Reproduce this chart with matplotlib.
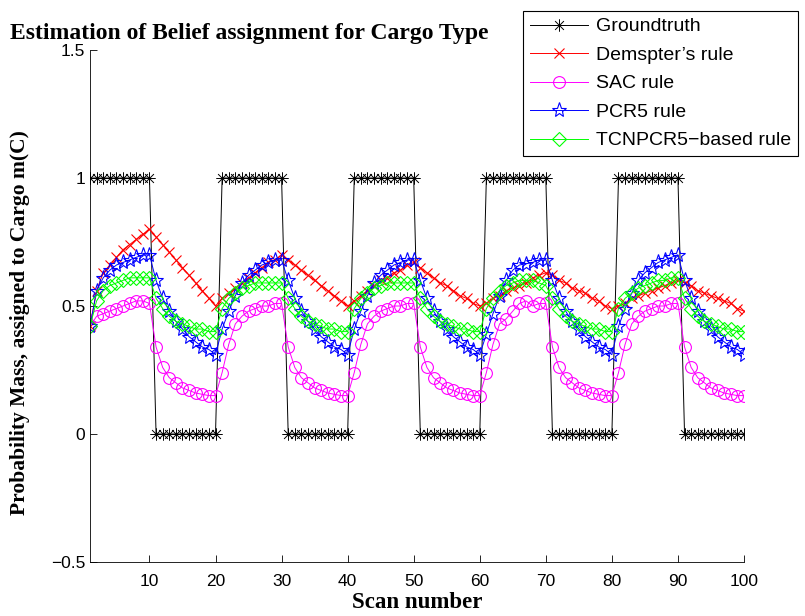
import numpy as np
import matplotlib
matplotlib.use("Agg")
from matplotlib import pyplot as plt
from matplotlib.path import Path

# scan index 1..100
scans = np.arange(1, 101)

groundtruth = [1] * 10 + [0] * 10 + [1] * 10 + [0] * 10 + [1] * 10 + [0] * 10 + [1] * 10 + [0] * 10 + [1] * 10 + [0] * 10

dempster = [0.42, 0.56, 0.63, 0.66, 0.69, 0.72, 0.74, 0.76, 0.78, 0.80,
            0.77, 0.74, 0.71, 0.68, 0.65, 0.62, 0.59, 0.56, 0.53, 0.50,
            0.53, 0.55, 0.57, 0.59, 0.61, 0.63, 0.65, 0.67, 0.68, 0.70,
            0.68, 0.66, 0.64, 0.62, 0.60, 0.58, 0.56, 0.54, 0.52, 0.50,
            0.52, 0.54, 0.56, 0.58, 0.60, 0.61, 0.63, 0.64, 0.66, 0.67,
            0.65, 0.63, 0.61, 0.59, 0.58, 0.56, 0.54, 0.53, 0.51, 0.50,
            0.51, 0.53, 0.54, 0.56, 0.57, 0.58, 0.59, 0.61, 0.62, 0.63,
            0.62, 0.60, 0.59, 0.57, 0.56, 0.55, 0.53, 0.52, 0.50, 0.49,
            0.50, 0.51, 0.53, 0.54, 0.55, 0.56, 0.57, 0.58, 0.59, 0.60,
            0.59, 0.58, 0.56, 0.55, 0.54, 0.53, 0.52, 0.51, 0.49, 0.48]

sac = [0.42, 0.46, 0.47, 0.48, 0.49, 0.50, 0.51, 0.52, 0.52, 0.51,
       0.34, 0.26, 0.22, 0.20, 0.18, 0.17, 0.16, 0.155, 0.15, 0.15,
       0.24, 0.35, 0.43, 0.46, 0.48, 0.49, 0.50, 0.50, 0.51, 0.51,
       0.34, 0.26, 0.22, 0.20, 0.18, 0.17, 0.16, 0.155, 0.15, 0.15,
       0.24, 0.35, 0.43, 0.46, 0.48, 0.49, 0.50, 0.50, 0.51, 0.51,
       0.34, 0.26, 0.22, 0.20, 0.18, 0.17, 0.16, 0.155, 0.15, 0.15,
       0.24, 0.35, 0.43, 0.45, 0.48, 0.51, 0.52, 0.50, 0.51, 0.51,
       0.34, 0.26, 0.22, 0.20, 0.18, 0.17, 0.16, 0.155, 0.15, 0.15,
       0.24, 0.35, 0.43, 0.46, 0.48, 0.49, 0.50, 0.50, 0.51, 0.51,
       0.34, 0.26, 0.22, 0.20, 0.18, 0.17, 0.16, 0.155, 0.15, 0.15]

pcr5 = [0.42, 0.56, 0.61, 0.64, 0.66, 0.67, 0.68, 0.69, 0.70, 0.70,
        0.60, 0.53, 0.48, 0.44, 0.41, 0.38, 0.36, 0.34, 0.33, 0.31,
        0.41, 0.48, 0.54, 0.59, 0.62, 0.64, 0.66, 0.67, 0.68, 0.68,
        0.60, 0.53, 0.48, 0.44, 0.41, 0.38, 0.36, 0.34, 0.33, 0.31,
        0.41, 0.48, 0.54, 0.59, 0.62, 0.64, 0.66, 0.67, 0.68, 0.68,
        0.60, 0.53, 0.48, 0.44, 0.41, 0.38, 0.36, 0.34, 0.33, 0.31,
        0.39, 0.47, 0.54, 0.60, 0.64, 0.66, 0.665, 0.67, 0.68, 0.68,
        0.60, 0.53, 0.48, 0.44, 0.41, 0.38, 0.36, 0.34, 0.33, 0.31,
        0.42, 0.49, 0.55, 0.60, 0.63, 0.65, 0.67, 0.68, 0.69, 0.70,
        0.60, 0.53, 0.48, 0.44, 0.41, 0.38, 0.36, 0.34, 0.33, 0.31]

tcnpcr5 = [0.42, 0.52, 0.56, 0.58, 0.59, 0.60, 0.61, 0.61, 0.61, 0.61,
           0.53, 0.49, 0.46, 0.44, 0.43, 0.42, 0.41, 0.41, 0.40, 0.40,
           0.49, 0.53, 0.55, 0.57, 0.58, 0.59, 0.59, 0.59, 0.59, 0.59,
           0.53, 0.49, 0.46, 0.44, 0.43, 0.42, 0.41, 0.41, 0.40, 0.40,
           0.49, 0.53, 0.55, 0.57, 0.58, 0.59, 0.59, 0.59, 0.59, 0.59,
           0.53, 0.49, 0.46, 0.44, 0.43, 0.42, 0.41, 0.41, 0.40, 0.40,
           0.49, 0.53, 0.56, 0.58, 0.59, 0.60, 0.60, 0.60, 0.59, 0.58,
           0.53, 0.49, 0.46, 0.44, 0.43, 0.42, 0.41, 0.41, 0.40, 0.40,
           0.49, 0.53, 0.55, 0.57, 0.58, 0.59, 0.60, 0.60, 0.61, 0.61,
           0.53, 0.49, 0.46, 0.44, 0.43, 0.42, 0.41, 0.41, 0.40, 0.40]

yticks = [-0.5, 0, 0.5, 1, 1.5]
ytick_labels = ["\u22120.5", "0", "0.5", "1", "1.5"]
xticks = [10, 20, 30, 40, 50, 60, 70, 80, 90, 100]

plt.rcParams['font.family'] = ['Liberation Sans', 'DejaVu Sans']

# matlab-style asterisk: plus and cross together
d = 0.7071
asterisk = Path([(0, -1), (0, 1), (-1, 0), (1, 0), (-d, -d), (d, d), (-d, d), (d, -d)],
                [Path.MOVETO, Path.LINETO] * 4)

fig = plt.figure(figsize=(8.05, 6.16), dpi=100)
ax = fig.add_axes([90 / 805, 1 - 562 / 616, (744 - 90) / 805, (562 - 50) / 616])

lw = 0.7
ax.plot(scans, groundtruth, color='k', marker=asterisk, ms=9, mew=0.7, mfc='none', lw=lw, label='Groundtruth')
ax.plot(scans, dempster, color='#ff0000', marker='x', ms=7, mew=0.8, lw=lw, label="Demspter\u2019s rule")
ax.plot(scans, sac, color='#ff00ff', marker='o', ms=8.5, mfc='none', mew=0.8, lw=lw, label='SAC rule')
ax.plot(scans, pcr5, color='#0000ff', marker='*', ms=11, mfc='none', mew=0.8, lw=lw, label='PCR5 rule')
ax.plot(scans, tcnpcr5, color='#00ff00', marker='D', ms=7, mfc='none', mew=0.8, lw=lw, label='TCNPCR5\u2212based rule')

ax.set_xlim(1, 100)
ax.set_ylim(-0.5, 1.5)
ax.set_xticks(xticks)
ax.set_yticks(yticks)
ax.set_yticklabels(ytick_labels)
ax.tick_params(direction='in', length=5, labelsize=12.5, width=0.6)
ax.tick_params(axis='x', pad=9)
ax.spines['top'].set_visible(False)
ax.spines['right'].set_visible(False)
for s in ['left', 'bottom']:
    ax.spines[s].set_linewidth(0.6)

ax.set_xlabel('Scan number', family='Liberation Serif', weight='bold', fontsize=16.5, labelpad=2)
fig.text(20 / 805, 1 - 323 / 616, 'Probability Mass, assigned to Cargo m(C)', family='Liberation Serif',
         weight='bold', fontsize=15.5, rotation=90, ha='center', va='center')
fig.text(10 / 805, 1 - 33 / 616, 'Estimation of Belief assignment for Cargo Type', family='Liberation Serif',
         weight='bold', fontsize=17, ha='left', va='center')

leg = ax.legend(loc='upper right', bbox_to_anchor=(798 / 805, 1 - 11 / 616), bbox_transform=fig.transFigure,
                fontsize=14, handlelength=3.0, handletextpad=0.4, labelspacing=0.56, borderpad=0.35,
                borderaxespad=0, fancybox=False, framealpha=1, edgecolor='k')
leg.get_frame().set_linewidth(0.8)

fig.savefig('out.png', dpi=100)
